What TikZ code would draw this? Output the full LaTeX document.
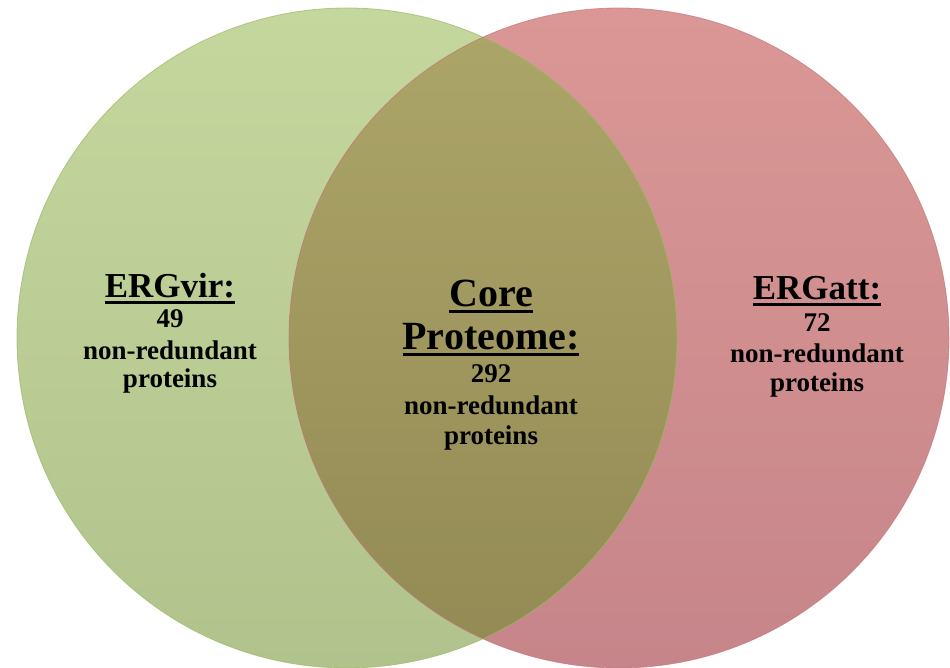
\documentclass[tikz,border=0pt]{standalone}
\usepackage{fontspec}
\setmainfont{Liberation Serif}
\newcommand{\myul}[1]{\setbox0\hbox{#1}\rlap{\rule[-6pt]{\wd0}{2.8pt}}\box0}
\definecolor{gtop}{HTML}{C4D79D}
\definecolor{gbot}{HTML}{B1C38C}
\definecolor{rtop}{HTML}{DA9795}
\definecolor{rbot}{HTML}{C6858A}
\definecolor{ltop}{HTML}{ADA668}
\definecolor{lbot}{HTML}{928954}
\definecolor{gedge}{HTML}{9DB865}
\definecolor{redge}{HTML}{C4787A}
\begin{document}
\begin{tikzpicture}[x=1pt,y=1pt,
  head/.style={font=\fontsize{35}{40}\selectfont\bfseries, anchor=base, inner sep=0pt},
  corehead/.style={font=\fontsize{40}{46}\selectfont\bfseries, anchor=base, inner sep=0pt},
  body/.style={font=\fontsize{27}{30}\selectfont\bfseries, anchor=base, inner sep=0pt}]
\useasboundingbox (0,0) rectangle (950,667);
\fill[white] (0,0) rectangle (950,667);
% circles
\shade[top color=gtop, bottom color=gbot] (347,329) circle (330);
\shade[top color=rtop, bottom color=rbot] (619,329) circle (330);
\begin{scope}
  \clip (347,329) circle (330);
  \shade[top color=ltop, bottom color=lbot] (619,329) circle (330);
\end{scope}
\draw[gedge, line width=0.8pt, opacity=0.7] (347,329) circle (330);
\draw[redge, line width=0.8pt, opacity=0.7] (619,329) circle (330);
% left text
\node[head] (lt) at (170,369) {\myul{ERGvir:}};
\node[body] (ln) at (170,339) {49};
\node[body] (lr) at (170,307) {non-redundant};
\node[body] (lp) at (170,279) {proteins};
% core text
\node[corehead] (ct1) at (491,360) {\myul{Core}};
\node[corehead] (ct2) at (491,317) {\myul{Proteome:}};
\node[body] (cn) at (491,284) {292};
\node[body] (cr) at (491,252) {non-redundant};
\node[body] (cp) at (491,222) {proteins};
% right text
\node[head] (rt) at (817,367) {\myul{ERGatt:}};
\node[body] (rn) at (817,335) {72};
\node[body] (rr) at (817,304) {non-redundant};
\node[body] (rp) at (817,275) {proteins};
\end{tikzpicture}
\end{document}
